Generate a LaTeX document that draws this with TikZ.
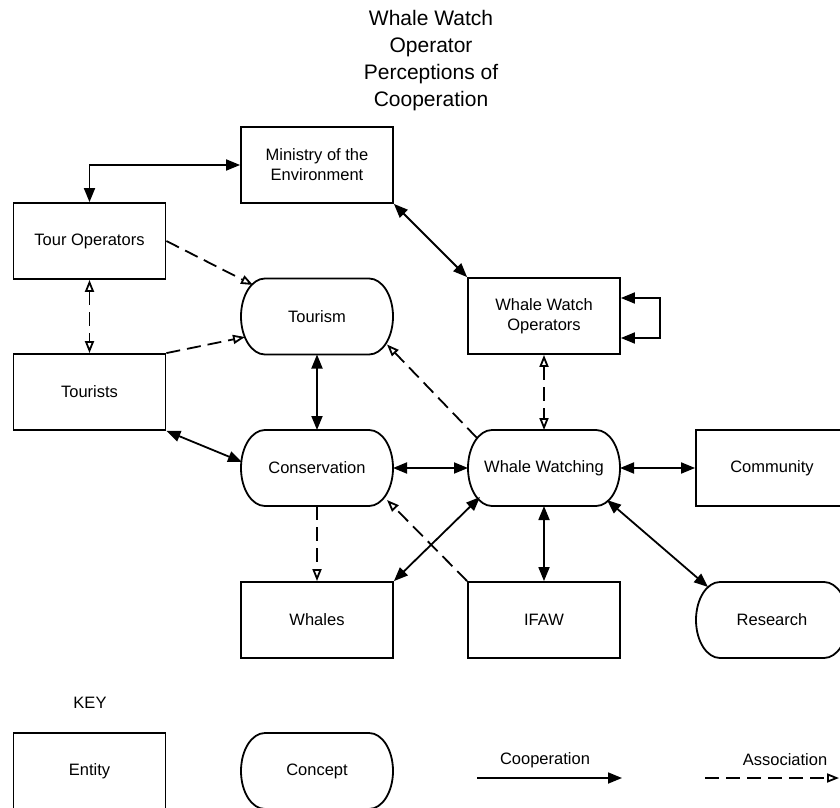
\documentclass[tikz,border=0pt]{standalone}
\usepackage{fontspec}
\setmainfont{Liberation Sans}
\usetikzlibrary{arrows.meta}

\newcommand\nodefont{\fontsize{16.5}{20}\selectfont}
\newcommand\headfont{\fontsize{21}{27}\selectfont}

% stadium-like outline (elliptical ends) around a concept node
\newcommand\pilloutline[1]{%
  \draw[base] ([xshift=24pt]#1.north west) -- ([xshift=-24pt]#1.north east)
    arc[start angle=90, end angle=-90, x radius=24pt, y radius=38pt]
    -- ([xshift=24pt]#1.south west)
    arc[start angle=270, end angle=90, x radius=24pt, y radius=38pt] -- cycle;}

\tikzset{
  base/.style={line width=1.8pt, black},
  entity/.style={base, draw, rectangle, minimum width=152pt, minimum height=76pt,
    inner sep=0pt, font=\nodefont, align=center},
  concept/.style={rectangle, minimum width=152pt, minimum height=76pt,
    inner sep=0pt, outer sep=0pt, font=\nodefont, align=center},
  solidtip/.tip={Triangle[length=14pt,width=11pt]},
  opentip/.tip={Triangle[open,length=12pt,width=9pt,fill=white]},
  coop/.style={base, solidtip-solidtip},
  coopone/.style={base, -solidtip},
  assocline/.style={base, dash pattern=on 14pt off 7pt},
  assoc/.style={assocline, -opentip},
  assocboth/.style={assocline, opentip-opentip},
  label/.style={font=\nodefont, inner sep=0pt}
}

\begin{document}
\begin{tikzpicture}[x=1pt, y=1pt]
\useasboundingbox (0,0) rectangle (840,807);

% title
\node[font=\headfont, align=center] (title) at (431,746.5)
  {Whale Watch\\Operator\\Perceptions of\\Cooperation};

% entities
\node[entity] (ministry) at (317,642) {Ministry of the\\Environment};
\node[entity] (tourop)   at (89.5,566) {Tour Operators};
\node[entity] (tourists) at (89.5,415) {Tourists};
\node[entity] (wwo)      at (544,491) {Whale Watch\\Operators};
\node[entity] (community) at (772,339) {Community};
\node[entity] (whales)   at (317,187) {Whales};
\node[entity] (ifaw)     at (544,187) {IFAW};

% concepts
\node[concept] (tourism)      at (317,490.5) {Tourism};
\node[concept] (conservation) at (317,339) {Conservation};
\node[concept] (watching)     at (544,339) {Whale Watching};
\node[concept] (research)     at (772,187) {Research};
\pilloutline{tourism}
\pilloutline{conservation}
\pilloutline{watching}
\pilloutline{research}

% cooperation links
\draw[coop] (tourop.north) |- (ministry.west);
\draw[coop] (ministry.south east) -- (wwo.north west);
\draw[coop] (tourism.south) -- (conservation.north);
\draw[coop] (tourists.south east) -- ([shift={(-75,6)}]conservation.center);
\draw[coop] (conservation.east) -- (watching.west);
\draw[coop] (watching.east) -- (community.west);
\draw[coop] (whales.north east) -- ([shift={(-64,-29)}]watching.center);
\draw[coop] (watching.south) -- (ifaw.north);
\draw[coop] ([shift={(63,-32)}]watching.center) -- ([shift={(-64,33)}]research.center);
\draw[coop] ([yshift=18pt]wwo.east) -- ++(39,0) |- ([yshift=-22pt]wwo.east);

% association links
\draw[assocboth] (tourop.south) -- (tourists.north);
\draw[assoc] (tourop.east) -- ([shift={(-64,31.5)}]tourism.center);
\draw[assoc] (tourists.north east) -- ([shift={(-72,-20.5)}]tourism.center);
\draw[assoc] ([shift={(-67,30)}]watching.center) -- ([shift={(70,-28)}]tourism.center);
\draw[assocboth] (wwo.south) -- (watching.north);
\draw[assoc] (ifaw.north west) -- ([shift={(70,-32)}]conservation.center);
\draw[assoc] (conservation.south) -- (whales.north);

% key
\node[label] (keytitle) at (90,104) {KEY};
\node[entity] (entitykey) at (89.5,36) {Entity};
\node[concept] (conceptkey) at (317,36) {Concept};
\pilloutline{conceptkey}
\node[label] (coopkey) at (545,47) {Cooperation};
\node[label] (assockey) at (785,47) {Association};
\coordinate (coopa) at (477,29);
\coordinate (coopb) at (622,29);
\coordinate (assoca) at (705,29);
\coordinate (assocb) at (839,29);
\draw[coopone] (coopa) -- (coopb);
\draw[assoc] (assoca) -- (assocb);
\end{tikzpicture}
\end{document}
